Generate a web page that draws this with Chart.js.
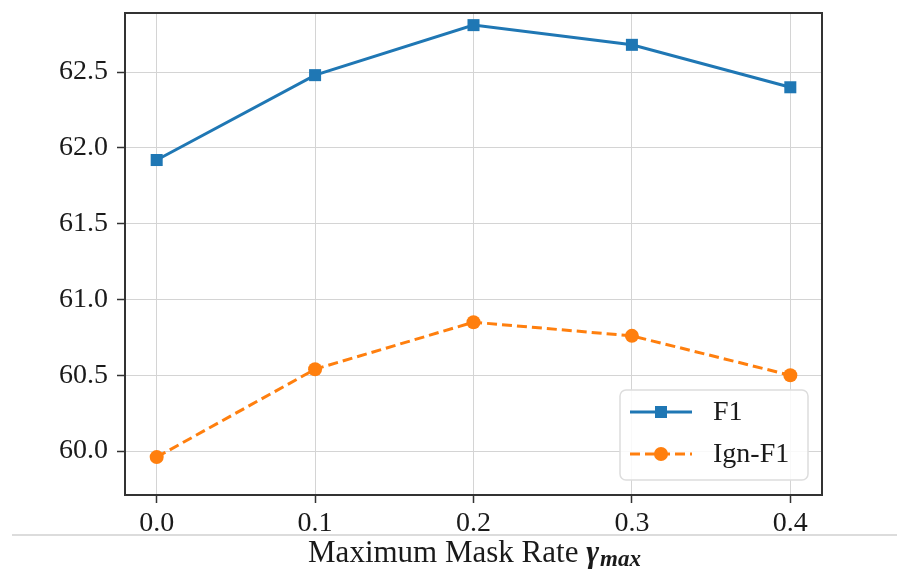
<!DOCTYPE html>
<html>
<head>
<meta charset="utf-8">
<script src="https://cdn.jsdelivr.net/npm/chart.js@4.4.0/dist/chart.umd.min.js"></script>
<style>
  html, body { margin: 0; padding: 0; background: #fff; }
  #wrap { width: 897px; height: 575px; position: relative; }
</style>
</head>
<body>
<div id="wrap"><canvas id="chart" width="897" height="575"></canvas></div>
<script>
// values
var maskRates = [0.0, 0.1, 0.2, 0.3, 0.4];
var f1Values = [61.92, 62.48, 62.81, 62.68, 62.40];
var ignF1Values = [59.96, 60.54, 60.85, 60.76, 60.50];
var xTickValues = [0.0, 0.1, 0.2, 0.3, 0.4];
var yTickValues = [60.0, 60.5, 61.0, 61.5, 62.0, 62.5];
var seriesNames = ["F1", "Ign-F1"];
var seriesColors = ["#1f77b4", "#ff7f0e"];

var FONT = "'Liberation Serif', 'Times New Roman', serif";

function toPoints(xs, ys) {
    var pts = [];
    for (var i = 0; i < xs.length; i++) {
        pts.push({ x: xs[i], y: ys[i] });
    }
    return pts;
}

// frame, legend, x title and the gray rule under the ticks
var extrasPlugin = {
    id: 'extras',
    afterDraw: function (chart) {
        var ctx = chart.ctx;
        var area = chart.chartArea;
        ctx.save();

        // axes frame
        ctx.strokeStyle = '#333';
        ctx.lineWidth = 2;
        ctx.strokeRect(area.left, area.top, area.right - area.left, area.bottom - area.top);

        // gray separator line
        ctx.strokeStyle = '#dcdcdc';
        ctx.lineWidth = 2;
        ctx.beginPath();
        ctx.moveTo(12, 535);
        ctx.lineTo(897, 535);
        ctx.stroke();

        // x axis title with subscript
        var y = 554;
        ctx.fillStyle = '#1a1a1a';
        ctx.textBaseline = 'middle';
        ctx.font = "31px " + FONT;
        var part1 = "Maximum Mask Rate ";
        var w1 = ctx.measureText(part1).width;
        ctx.font = "italic bold 31px " + FONT;
        var w2 = ctx.measureText("\u03b3").width;
        ctx.font = "italic bold 23px " + FONT;
        var w3 = ctx.measureText("max").width;
        var x0 = 474 - (w1 + w2 + w3) / 2;
        ctx.font = "31px " + FONT;
        ctx.textAlign = 'left';
        ctx.fillText(part1, x0, y);
        ctx.font = "italic bold 31px " + FONT;
        ctx.fillText("\u03b3", x0 + w1, y);
        ctx.font = "italic bold 23px " + FONT;
        ctx.fillText("max", x0 + w1 + w2 + 1, y + 6);

        // legend
        var bx = 620, by = 390, bw = 188, bh = 90;
        ctx.fillStyle = 'rgba(255,255,255,0.85)';
        ctx.strokeStyle = '#dddddd';
        ctx.lineWidth = 1.5;
        ctx.beginPath();
        ctx.roundRect(bx, by, bw, bh, 6);
        ctx.fill();
        ctx.stroke();

        var rows = [412, 454];
        chart.data.datasets.forEach(function (ds, i) {
            var ly = rows[i];
            ctx.strokeStyle = ds.borderColor;
            ctx.lineWidth = ds.borderWidth;
            ctx.setLineDash(ds.borderDash || []);
            ctx.beginPath();
            ctx.moveTo(630, ly);
            ctx.lineTo(692, ly);
            ctx.stroke();
            ctx.setLineDash([]);
            ctx.fillStyle = ds.backgroundColor;
            ctx.beginPath();
            if (ds.pointStyle === 'rect') {
                var s = ds.pointRadius * Math.SQRT1_2;
                ctx.rect(661 - s, ly - s, 2 * s, 2 * s);
            } else {
                ctx.arc(661, ly, ds.pointRadius, 0, Math.PI * 2);
            }
            ctx.fill();
            ctx.fillStyle = '#1a1a1a';
            ctx.font = "28px " + FONT;
            ctx.textAlign = 'left';
            ctx.textBaseline = 'middle';
            ctx.fillText(ds.label, 713, ly + 1);
        });

        ctx.restore();
    }
};

var gridStyle = {
    color: '#d4d4d4',
    lineWidth: 1,
    borderDash: [3, 3],
    tickColor: '#333',
    tickBorderDash: [],
    tickLength: 8,
    tickWidth: 1.5
};

var ctx = document.getElementById("chart").getContext("2d");
new Chart(ctx, {
    type: 'line',
    data: {
        datasets: [{
            label: seriesNames[0],
            data: toPoints(maskRates, f1Values),
            borderColor: seriesColors[0],
            backgroundColor: seriesColors[0],
            borderWidth: 3,
            pointStyle: 'rect',
            pointRadius: 8.5,
            pointBorderWidth: 0,
            fill: false
        }, {
            label: seriesNames[1],
            data: toPoints(maskRates, ignF1Values),
            borderColor: seriesColors[1],
            backgroundColor: seriesColors[1],
            borderWidth: 3,
            borderDash: [10, 5],
            pointStyle: 'circle',
            pointRadius: 7,
            pointBorderWidth: 0,
            fill: false
        }]
    },
    options: {
        responsive: false,
        animation: false,
        layout: { padding: { left: 0, right: 75, top: 13, bottom: 0 } },
        plugins: {
            legend: { display: false },
            tooltip: { enabled: false }
        },
        scales: {
            x: {
                type: 'linear',
                min: -0.02,
                max: 0.42,
                afterBuildTicks: function (scale) {
                    scale.ticks = xTickValues.map(function (v) { return { value: v }; });
                },
                afterFit: function (scale) {
                    scale.height = 80;
                    scale.paddingLeft = 0;
                    scale.paddingRight = 0;
                },
                ticks: {
                    color: '#1a1a1a',
                    font: { family: FONT, size: 28 },
                    padding: 4,
                    maxRotation: 0,
                    callback: function (v) { return v.toFixed(1); }
                },
                grid: gridStyle,
                border: { display: false }
            },
            y: {
                min: 59.71,
                max: 62.89,
                afterBuildTicks: function (scale) {
                    scale.ticks = yTickValues.map(function (v) { return { value: v }; });
                },
                afterFit: function (scale) {
                    scale.width = 125;
                    scale.paddingTop = 0;
                    scale.paddingBottom = 0;
                },
                ticks: {
                    color: '#1a1a1a',
                    font: { family: FONT, size: 28 },
                    padding: 9,
                    callback: function (v) { return v.toFixed(1); }
                },
                grid: gridStyle,
                border: { display: false }
            }
        }
    },
    plugins: [extrasPlugin]
});
</script>
</body>
</html>
